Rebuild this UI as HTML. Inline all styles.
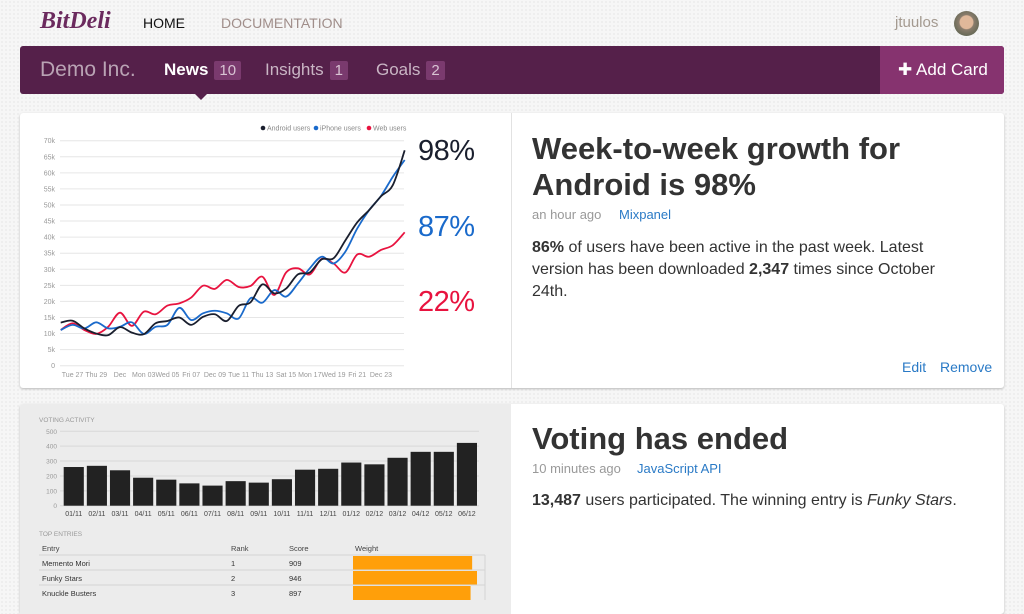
<!DOCTYPE html>
<html><head><meta charset="utf-8">
<style>
*{box-sizing:border-box;margin:0;padding:0}
body{width:1024px;height:600px;overflow:hidden;font-family:"Liberation Sans",sans-serif;background-color:#f6f6f6;background-image:radial-gradient(#dcdcdc 0.7px,transparent 0.8px);background-size:4px 4px;position:relative}
.abs{position:absolute;white-space:nowrap}
.card{position:absolute;left:20px;width:984px;background:#fff;border-radius:3px;box-shadow:0 1px 2px rgba(0,0,0,.25)}
.badge{display:inline-block;background:#7a3a6e;color:#d9c4d4;font-size:15px;font-weight:normal;padding:1px 5px;border-radius:2px;margin-left:6px;line-height:17px}
.nav-item{position:absolute;top:60px;font-size:17px;color:#c9b5c4}
.pct{font-size:29px;font-weight:300;letter-spacing:-0.5px}
</style></head><body>
<div class="abs" style="left:40px;top:8px;font-family:'Liberation Serif',serif;font-style:italic;font-weight:bold;font-size:24px;color:#6b2a5e">BitDeli</div>
<div class="abs" style="left:143px;top:15px;font-size:14px;color:#111">HOME</div>
<div class="abs" style="left:221px;top:15px;font-size:14px;color:#a08e8a">DOCUMENTATION</div>
<div class="abs" style="left:895px;top:14px;font-size:15px;color:#a49a90">jtuulos</div>
<div class="abs" style="left:954px;top:11px;width:25px;height:25px;border-radius:50%;background:radial-gradient(circle at 50% 45%,#e0b89a 0 35%,#8a7c6c 40%,#4a5a45 100%)"></div>

<div class="abs" style="left:20px;top:46px;width:984px;height:48px;background:#55204a;border-radius:3px"></div>
<div class="abs" style="left:880px;top:46px;width:124px;height:48px;background:#86336f;border-radius:0 3px 3px 0;color:#fff;font-size:17px;line-height:48px;padding-left:18px">✚ Add Card</div>
<div class="abs" style="left:195px;top:94px;width:0;height:0;border-left:6px solid transparent;border-right:6px solid transparent;border-top:6px solid #55204a"></div>
<div class="abs" style="left:40px;top:58px;font-size:21px;color:#b9a3b4">Demo Inc.</div>
<div class="nav-item" style="left:164px;color:#fff;font-weight:bold">News<span class="badge">10</span></div>
<div class="nav-item" style="left:265px">Insights<span class="badge">1</span></div>
<div class="nav-item" style="left:376px">Goals<span class="badge">2</span></div>

<div class="card" style="top:113px;height:275px">
  <div class="abs" style="left:491px;top:0;width:1px;height:275px;background:#e2e2e2"></div>
</div>
<svg class="abs" id="lc" style="left:0;top:0" width="512" height="400"></svg>
<div class="abs pct" style="left:418px;top:135px;color:#1a1f2e">98%</div>
<div class="abs pct" style="left:418px;top:211px;color:#1a6acb">87%</div>
<div class="abs pct" style="left:418px;top:286px;color:#e8133f">22%</div>
<div class="abs" style="left:532px;top:131px;font-size:31px;font-weight:bold;color:#333;line-height:36px">Week-to-week growth for<br>Android is 98%</div>
<div class="abs" style="left:532px;top:207px;font-size:13px;color:#999">an hour ago</div>
<div class="abs" style="left:619px;top:207px;font-size:13px;color:#2a7ac6">Mixpanel</div>
<div class="abs" style="left:532px;top:237px;font-size:16px;color:#333;line-height:22px">
<b>86%</b> of users have been active in the past week. Latest<br>version has been downloaded <b>2,347</b> times since October<br>24th.</div>
<div class="abs" style="left:902px;top:359px;font-size:14px;color:#2a7ac6">Edit</div>
<div class="abs" style="left:940px;top:359px;font-size:14px;color:#2a7ac6">Remove</div>

<div class="card" style="top:404px;height:210px">
  <div class="abs" style="left:0;top:0;width:491px;height:210px;background:#ececec;border-radius:3px 0 0 0"></div>
</div>
<svg class="abs" id="bc" style="left:0;top:0" width="512" height="600"></svg>
<div class="abs" style="left:532px;top:421px;font-size:31px;font-weight:bold;color:#333">Voting has ended</div>
<div class="abs" style="left:532px;top:461px;font-size:13px;color:#999">10 minutes ago</div>
<div class="abs" style="left:637px;top:461px;font-size:13px;color:#2a7ac6">JavaScript API</div>
<div class="abs" style="left:532px;top:492px;font-size:16px;color:#333"><b>13,487</b> users participated. The winning entry is <i>Funky Stars</i>.</div>

<script>
const NS='http://www.w3.org/2000/svg';
function mk(p,t,a,txt){const e=document.createElementNS(NS,t);for(const k in a)e.setAttribute(k,a[k]);if(txt!==undefined)e.textContent=txt;p.appendChild(e);return e;}

const lineXLabels=['Tue 27','Thu 29','Dec','Mon 03','Wed 05','Fri 07','Dec 09','Tue 11','Thu 13','Sat 15','Mon 17','Wed 19','Fri 21','Dec 23'];
const lineYTicks=[0,5,10,15,20,25,30,35,40,45,50,55,60,65,70];
const androidUsers=[13.4,14,11.6,10,9.5,12,10.3,9.8,13.2,13.9,15,12.7,15.2,16,13.9,18.6,19.7,25.3,22.5,24,28.4,29,33.1,33.4,39,44.6,48.4,52.7,56.2,67];
const iphoneUsers=[11.1,12.7,11.6,13.5,11.6,12.1,13.5,9.9,12.1,12.7,18,14.2,16.3,17.1,16.3,14.7,21,19.6,23.5,21.5,25.6,30.3,33.9,31.8,35.5,42.7,48.4,52.8,58.8,64];
const webUsers=[11.1,13.2,11.1,9.9,12.1,16.5,12.4,16.8,16,18.7,19.4,21.2,24.9,23.9,26.7,24.5,24.8,27.7,22,29,30.3,28.4,33.2,31.8,29,34.6,33.9,36,37.5,41.5];

const lc=document.getElementById('lc');
const lx=i=>60.7+i*(344/29), ly=v=>365.7-v*(225/70);
lineYTicks.forEach(t=>{
  const g=mk(lc,'line',{x1:60,x2:404,y1:ly(t),y2:ly(t),stroke:'#e6e6e6','stroke-width':1});
  
  const l=mk(lc,'text',{x:55,y:ly(t)+2.5,'font-size':7,fill:'#999','text-anchor':'end'},t===0?'0':t+'k');
  
});
lineXLabels.forEach((s,i)=>{
  const l=mk(lc,'text',{x:lx(1+2*i),y:377,'font-size':7,fill:'#999','text-anchor':'middle'},s);
  
});
function smooth(vals){
  const p=vals.map((v,i)=>[lx(i),ly(v)]);let d='M'+p[0][0]+','+p[0][1];
  for(let i=0;i<p.length-1;i++){const a=p[i-1]||p[i],b=p[i],c=p[i+1],e=p[i+2]||c;
    d+=` C${b[0]+(c[0]-a[0])/6},${b[1]+(c[1]-a[1])/6} ${c[0]-(e[0]-b[0])/6},${c[1]-(e[1]-b[1])/6} ${c[0]},${c[1]}`;}
  return d;}
[[webUsers,'#e8133f','web-users-line'],[iphoneUsers,'#1a6acb','iphone-users-line'],[androidUsers,'#1a1f2e','android-users-line']].forEach(([v,c,n])=>{
  const p=mk(lc,'path',{d:smooth(v),fill:'none',stroke:c,'stroke-width':1.8});
  
});
[['Android users','#1a1f2e',263],['iPhone users','#1a6acb',316],['Web users','#e8133f',369]].forEach(([s,c,x])=>{
  const g=mk(lc,'g',{});
  mk(g,'circle',{cx:x,cy:128,r:2.3,fill:c});
  mk(g,'text',{x:x+4,y:130.5,'font-size':7,fill:'#888'},s);
});

const barLabels=['01/11','02/11','03/11','04/11','05/11','06/11','07/11','08/11','09/11','10/11','11/11','12/11','01/12','02/12','03/12','04/12','05/12','06/12'];
const barValues=[260,268,238,188,175,150,135,165,155,178,242,248,290,278,322,362,362,422];
const barYTicks=[0,100,200,300,400,500];
const bc=document.getElementById('bc');
const by=v=>505.7-v*(74.4/500), slot=(479-62.7)/18, bx=i=>62.7+i*slot;
let t=mk(bc,'text',{x:39,y:422,'font-size':6.5,fill:'#999'},'VOTING ACTIVITY');
barYTicks.forEach(v=>{
  const g=mk(bc,'line',{x1:60,x2:479,y1:by(v),y2:by(v),stroke:'#d8d8d8','stroke-width':1});
  
  const l=mk(bc,'text',{x:57,y:by(v)+2.5,'font-size':6.5,fill:'#999','text-anchor':'end'},v);
  
});
barValues.forEach((v,i)=>{
  const r=mk(bc,'rect',{x:bx(i)+1,y:by(v),width:slot-3,height:by(0)-by(v),fill:'#222'});
  
  const l=mk(bc,'text',{x:bx(i)+slot/2-0.5,y:516,'font-size':7,fill:'#444','text-anchor':'middle'},barLabels[i]);
  
});
t=mk(bc,'text',{x:39,y:536,'font-size':6.5,fill:'#999'},'TOP ENTRIES');
const entryNames=['Memento Mori','Funky Stars','Knuckle Busters'];
const entryRanks=[1,2,3];
const entryScores=[909,946,897];
[['Entry',42],['Rank',231],['Score',289],['Weight',355]].forEach(([s,x])=>{
  const l=mk(bc,'text',{x:x,y:551,'font-size':7.5,fill:'#444'},s);
});
entryNames.forEach((n,i)=>{
  const y0=555+i*15;
  const ln=mk(bc,'line',{x1:39,x2:485,y1:y0,y2:y0,stroke:'#d4d4d4'});
  const w=mk(bc,'rect',{x:353,y:y0+1,width:entryScores[i]/946*124,height:14,fill:'#ff9f0a'});
  
  [[n,42],[entryRanks[i],231],[entryScores[i],289]].forEach(([s,x])=>{
    const l=mk(bc,'text',{x:x,y:y0+11,'font-size':7.5,fill:'#333'},s);
  });
});
const vb=mk(bc,'line',{x1:485,x2:485,y1:555,y2:600,stroke:'#d4d4d4'});
</script>
</body></html>
